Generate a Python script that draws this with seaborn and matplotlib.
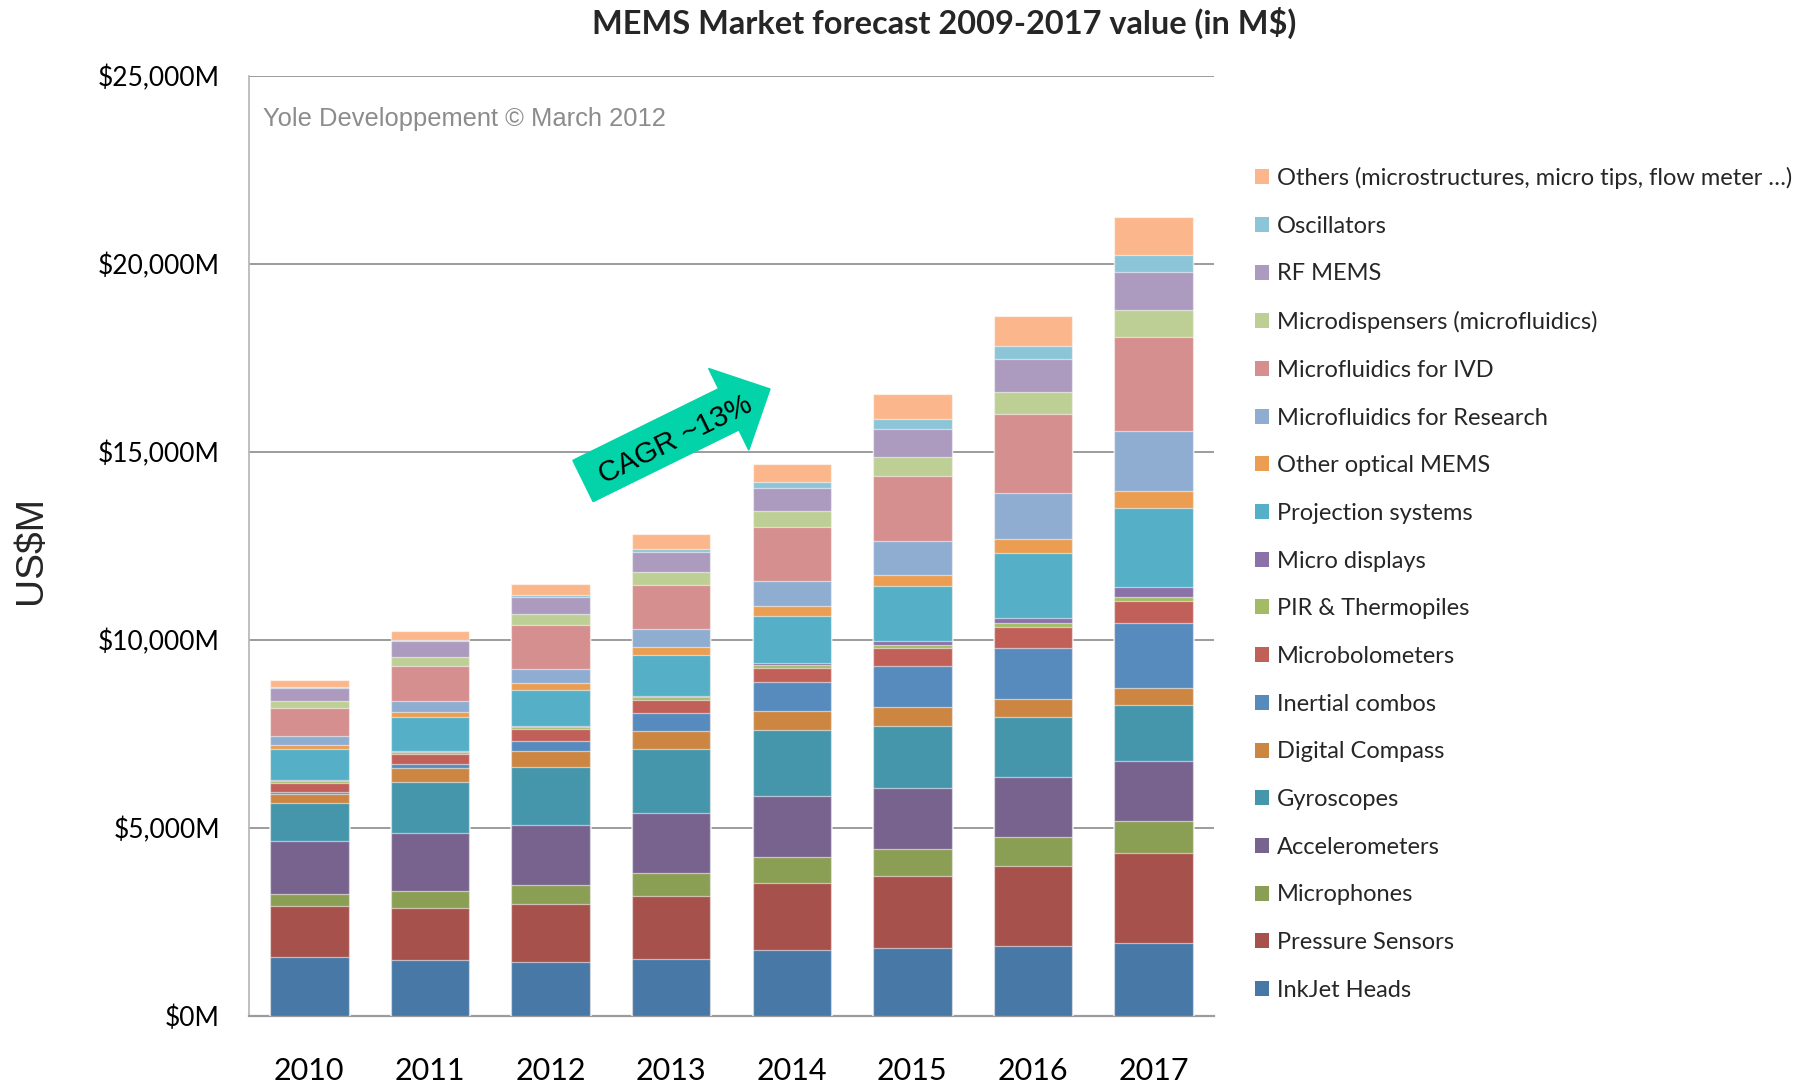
import numpy as np
import pandas as pd
import matplotlib
matplotlib.use("Agg")
import matplotlib.pyplot as plt
from matplotlib.patches import Patch, FancyArrow
import seaborn as sns

years = ["2010", "2011", "2012", "2013", "2014", "2015", "2016", "2017"]

# Values in M$ (bottom to top of stack)
inkjet_heads        = [1556, 1468, 1431, 1503, 1734, 1787, 1857, 1928]
pressure_sensors    = [1348, 1399, 1534, 1687, 1796, 1933, 2123, 2402]
microphones         = [327, 444, 505, 600, 677, 710, 760, 840]
accelerometers      = [1418, 1535, 1588, 1610, 1639, 1630, 1610, 1590]
gyroscopes          = [1011, 1372, 1542, 1680, 1754, 1650, 1590, 1500]
digital_compass     = [240, 372, 440, 495, 500, 490, 470, 440]
inertial_combos     = [44, 90, 260, 475, 770, 1110, 1370, 1750]
microbolometers     = [246, 283, 310, 340, 380, 460, 550, 580]
pir_thermopiles     = [55, 45, 60, 70, 70, 90, 110, 110]
micro_displays      = [15, 32, 20, 45, 70, 100, 140, 260]
projection_systems  = [840, 900, 975, 1085, 1240, 1455, 1720, 2105]
other_optical_mems  = [100, 140, 185, 210, 270, 305, 380, 455]
microfluidics_res   = [230, 284, 365, 490, 650, 890, 1210, 1600]
microfluidics_ivd   = [760, 936, 1185, 1160, 1440, 1750, 2115, 2490]
microdispensers     = [170, 226, 280, 360, 420, 490, 575, 705]
rf_mems             = [360, 424, 460, 525, 630, 750, 880, 1015]
oscillators         = [10, 30, 40, 80, 160, 260, 360, 460]
others              = [200, 246, 310, 385, 475, 660, 790, 1000]

series_names = [
    "InkJet Heads", "Pressure Sensors", "Microphones", "Accelerometers",
    "Gyroscopes", "Digital Compass", "Inertial combos", "Microbolometers",
    "PIR & Thermopiles", "Micro displays", "Projection systems",
    "Other optical MEMS", "Microfluidics for Research", "Microfluidics for IVD",
    "Microdispensers (microfluidics)", "RF MEMS", "Oscillators",
    "Others (microstructures, micro tips, flow meter \u2026)",
]
series_values = [
    inkjet_heads, pressure_sensors, microphones, accelerometers, gyroscopes,
    digital_compass, inertial_combos, microbolometers, pir_thermopiles,
    micro_displays, projection_systems, other_optical_mems, microfluidics_res,
    microfluidics_ivd, microdispensers, rf_mems, oscillators, others,
]
series_colors = [
    "#4878A6", "#A7514C", "#8A9E54", "#78628E", "#4596AB", "#CC8642",
    "#588BBD", "#C15F59", "#A2BB64", "#8A72A8", "#54AFC7", "#EB9D52",
    "#8FADD1", "#D58F8E", "#BDCF94", "#AC9BBF", "#8CC5D8", "#FBB78B",
]
y_ticks = [0, 5000, 10000, 15000, 20000, 25000]
y_tick_labels = ["$0M", "$5,000M", "$10,000M", "$15,000M", "$20,000M", "$25,000M"]

sns.set_theme(style="white")
plt.rcParams["font.family"] = ["Lato", "DejaVu Sans"]

W, H = 1809, 1086
fig = plt.figure(figsize=(W / 100, H / 100), dpi=100)
ax = fig.add_axes([249 / W, 1 - 1015.5 / H, (1214 - 249) / W, (1015.5 - 75.7) / H])

df = pd.DataFrame({name: vals for name, vals in zip(series_names, series_values)}, index=years)
cum = df.cumsum(axis=1)

# Draw from the top of the stack down (cumulative overlay)
for name, color in reversed(list(zip(series_names, series_colors))):
    sns.barplot(x=years, y=cum[name].values, color=color, saturation=1,
                width=0.65, edgecolor=(1, 1, 1, 0.55), linewidth=0.9, ax=ax,
                zorder=3)

ax.set_ylim(0, 25000)
ax.set_xlim(-0.5, 7.5)
ax.set_yticks(y_ticks)
ax.set_yticklabels(y_tick_labels)
ax.yaxis.grid(True, color="#9c9c9c", linewidth=1.4, zorder=0)
ax.xaxis.grid(False)
ax.set_axisbelow(True)
ax.tick_params(axis="y", length=0, pad=21, labelsize=19)
ax.tick_params(axis="x", length=0, pad=30, labelsize=22)
for lbl in ax.get_xticklabels() + ax.get_yticklabels():
    lbl.set_color("black")
ax.set_xlabel("")
ax.set_ylabel("")
for s in ["top", "right"]:
    ax.spines[s].set_visible(False)
ax.spines["left"].set_color("#b4b4b4")
ax.spines["left"].set_linewidth(1.2)
ax.spines["bottom"].set_color("#9c9c9c")
ax.spines["bottom"].set_linewidth(1.6)

# Title
fig.text(944 / W, 1 - 23 / H, "MEMS Market forecast 2009-2017 value (in M$)",
         ha="center", va="center", fontsize=23.4, fontweight="bold")

# Y axis label
fig.text(31 / W, 1 - 550 / H, "US$M", rotation=90, ha="center", va="center",
         fontsize=28, family=["Liberation Sans", "DejaVu Sans"])

# Watermark
ax.text(0.015, 0.9535, "Yole Developpement \u00a9 March 2012", transform=ax.transAxes,
        ha="left", va="center", fontsize=18.4, color="#8c8c8c",
        family=["Liberation Sans", "DejaVu Sans"])

# CAGR arrow (figure inches)
px = 1 / 100.0
tail = (583 * px, (H - 481) * px)
tip = (770 * px, (H - 389) * px)
dx, dy = tip[0] - tail[0], tip[1] - tail[1]
arrow = FancyArrow(tail[0], tail[1], dx, dy, width=46 * px, head_width=91 * px,
                   head_length=46 * px, length_includes_head=True,
                   color="#03D3A9", transform=fig.dpi_scale_trans, zorder=10)
fig.patches.append(arrow)
angle = np.degrees(np.arctan2(dy, dx))
fig.text(676 / W, 1 - 440 / H, "CAGR ~13%", rotation=angle, rotation_mode="anchor",
         ha="center", va="center", fontsize=21, color="black",
         family=["Liberation Sans", "DejaVu Sans"], zorder=11)

# Legend (top of stack first)
handles = [Patch(facecolor=c, edgecolor="none") for c in reversed(series_colors)]
labels = list(reversed(series_names))
fig.legend(handles, labels, loc="upper left", bbox_to_anchor=(1255 / W, 1 - 167 / H),
           frameon=False, fontsize=17, labelspacing=1.13, handlelength=0.6,
           handleheight=0.6, handletextpad=0.32, borderpad=0, borderaxespad=0)

fig.savefig("out.png", dpi=100)
